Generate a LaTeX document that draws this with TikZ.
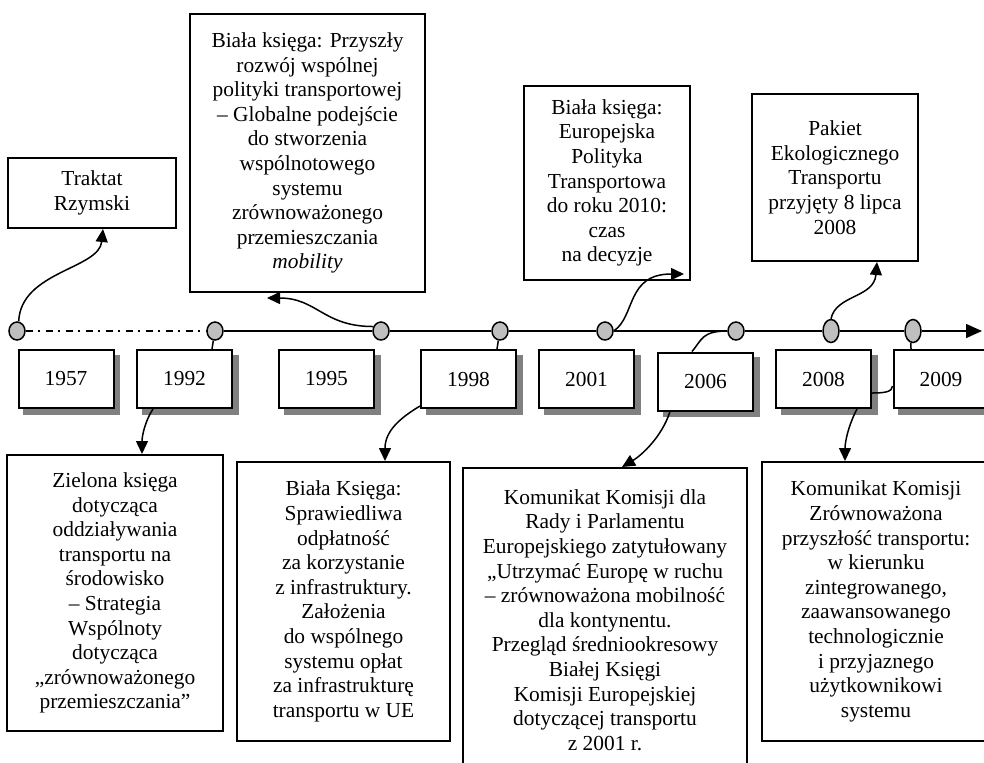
\documentclass[tikz,border=0pt]{standalone}
\usepackage{fontspec}
\setmainfont{Liberation Serif}
\usetikzlibrary{arrows.meta,shapes.geometric,shadows}
\newcommand{\mytext}{\fontsize{10.7}{12.3}\selectfont}
\tikzset{mybox/.style={draw,line width=1pt,fill=white,inner sep=0pt,align=center,font=\mytext}}
\tikzset{myyear/.style={mybox,minimum width=47.5pt,minimum height=29pt,
  copy shadow={shadow xshift=2.75pt,shadow yshift=-2.75pt,fill=black!50,draw=black!50}}}
\tikzset{mydot/.style={draw,ellipse,line width=0.75pt,fill=black!25,inner sep=0pt,minimum width=8pt,minimum height=9pt}}
\tikzset{myline/.style={line width=0.75pt}}
\tikzset{myarrow/.style={line width=0.75pt,-{Triangle[length=6.5pt,width=6pt]}}}

\begin{document}
\begin{tikzpicture}[x=0.5pt,y=-0.5pt]
	\useasboundingbox (0,0) rectangle (984,762);
	\clip (0,0) rectangle (984,762);

	% timeline dots
	\node[mydot] (d1957) at (17,331) {};
	\node[mydot] (d1992) at (215,331) {};
	\node[mydot] (d1995) at (381,331) {};
	\node[mydot] (d1998) at (500,331) {};
	\node[mydot] (d2001) at (605,331) {};
	\node[mydot] (d2006) at (736,331) {};
	\node[mydot,minimum height=11.5pt] (d2008) at (831,331) {};
	\node[mydot,minimum height=11.5pt] (d2009) at (913,331) {};
	\coordinate (tlend) at (982,331);

	% timeline
	\draw[myline,dash pattern=on 3.5pt off 2.5pt on 1pt off 3pt] (d1957) -- (d1992);
	\foreach \a/\b in {1992/1995,1995/1998,1998/2001,2001/2006,2006/2008,2008/2009}
		\draw[myline] (d\a) -- (d\b);
	\draw[myline,-{Triangle[length=8pt,width=7pt]}] (d2009) -- (tlend);

	% years
	\node[myyear] (y1957) at (66,379) {1957};
	\node[myyear] (y1992) at (184.5,379) {1992};
	\node[myyear] (y1995) at (326.5,379) {1995};
	\node[myyear] (y1998) at (468.5,379) {1998};
	\node[myyear] (y2001) at (586.5,379) {2001};
	\node[myyear] (y2006) at (705.5,381.5) {2006};
	\node[myyear] (y2008) at (823.5,379) {2008};
	\node[myyear] (y2009) at (941,379) {2009};

	% events above the line
	\node[mybox,minimum width=84pt,minimum height=35pt] (traktat) at (92,193) {Traktat\\Rzymski};
	\node[mybox,minimum width=117.5pt,minimum height=139pt] (przyszly) at (307.5,153)
		{Biała księga: Przyszły\\rozwój wspólnej\\polityki transportowej\\– Globalne podejście\\do stworzenia\\wspólnotowego\\systemu\\zrównoważonego\\przemieszczania\\\textit{mobility}};
	\node[mybox,minimum width=83pt,minimum height=97pt] (europejska) at (607,183)
		{Biała księga:\\Europejska\\Polityka\\Transportowa\\do roku 2010:\\czas\\na decyzje};
	\node[mybox,minimum width=83pt,minimum height=83.5pt] (pakiet) at (835,177.5)
		{Pakiet\\Ekologicznego\\Transportu\\przyjęty 8 lipca\\2008};

	% events below the line
	\node[mybox,minimum width=108pt,minimum height=138pt] (zielona) at (115,593)
		{Zielona księga\\dotycząca\\oddziaływania\\transportu na\\środowisko\\– Strategia\\Wspólnoty\\dotycząca\\„zrównoważonego\\przemieszczania”};
	\node[mybox,minimum width=106.5pt,minimum height=139.5pt] (sprawiedliwa) at (343.5,601.5)
		{Biała Księga:\\Sprawiedliwa\\odpłatność\\za korzystanie\\z infrastruktury.\\Założenia\\do wspólnego\\systemu opłat\\za infrastrukturę\\transportu w UE};
	\node[mybox,minimum width=142pt,minimum height=152pt] (komrady) at (605,620)
		{Komunikat Komisji dla\\Rady i Parlamentu\\Europejskiego zatytułowany\\„Utrzymać Europę w ruchu\\– zrównoważona mobilność\\dla kontynentu.\\Przegląd średniookresowy\\Białej Księgi\\Komisji Europejskiej\\dotyczącej transportu\\z 2001 r.};
	\node[mybox,minimum width=114pt,minimum height=139.5pt] (zrown) at (876,601.5)
		{Komunikat Komisji\\Zrównoważona\\przyszłość transportu:\\w kierunku\\zintegrowanego,\\zaawansowanego\\technologicznie\\i przyjaznego\\użytkownikowi\\systemu};

	% dots to years
	\draw[myline] (d1992.-100) -- ([xshift=13.75pt]y1992.north);
	\draw[myline] (d1998.-100) -- ([xshift=14.25pt]y1998.north);
	\draw[myline] (d2009.-100) -- ([xshift=-15pt]y2009.north);
	\draw[myline] (d2006.west) .. controls +(-25,0) and +(10,-12) .. ([xshift=-6.75pt]y2006.north);
	\draw[myline] ([yshift=-7pt]y2008.east) .. controls +(12,0) and +(0,6) .. ([yshift=-3.5pt]y2009.west);

	% arrows up
	\draw[myarrow] (d1957.80) .. controls +(2,-50) and +(-4,40) .. ([xshift=5.5pt]traktat.south);
	\draw[myarrow] (d1995.150) .. controls +(-50,0) and +(50,0) .. ([xshift=-20.25pt,yshift=-2.5pt]przyszly.south);
	\draw[myarrow] (d2001.east) .. controls +(22,-15) and +(-58,0) .. ([xshift=-3.5pt,yshift=3.5pt]europejska.south east);
	\draw[myarrow] (d2008.north) .. controls +(5,-24) and +(-3,36) .. ([xshift=21pt]pakiet.south);

	% arrows down
	\draw[myarrow] ([xshift=-15.75pt]y1992.south) .. controls +(-8,12) and +(0,-18) .. ([xshift=13.5pt]zielona.north);
	\draw[myarrow] ([yshift=1.5pt]y1998.south west) .. controls +(-20,12) and +(0,-30) .. ([xshift=20.75pt]sprawiedliwa.north);
	\draw[myarrow] ([xshift=-17.75pt]y2006.south) .. controls +(-8,25) and +(20,-12) .. ([xshift=8.5pt]komrady.north);
	\draw[myarrow] ([xshift=16.75pt]y2008.south) .. controls +(-8,15) and +(0,-20) .. ([xshift=-15.5pt]zrown.north);
\end{tikzpicture}
\end{document}
